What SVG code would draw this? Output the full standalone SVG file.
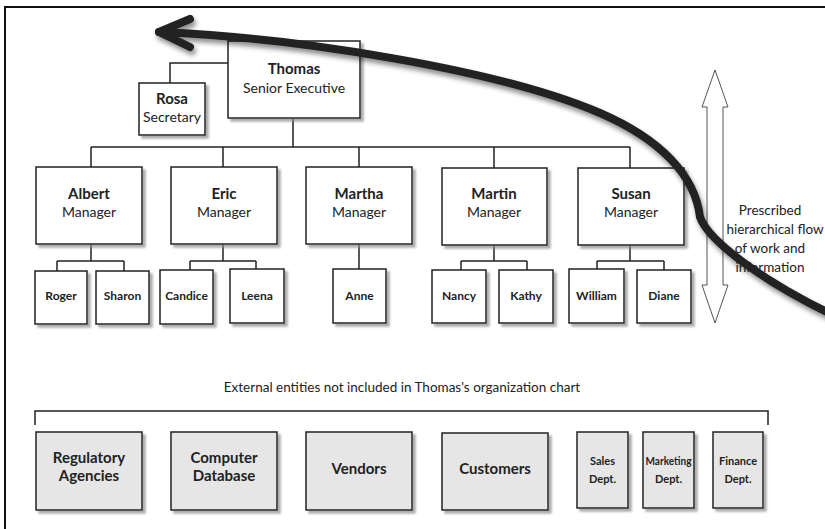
<svg xmlns="http://www.w3.org/2000/svg" width="825" height="529" viewBox="0 0 825 529">
<style>
.box{fill:#fff;stroke:#222;stroke-width:1.5;filter:url(#sh)}
.ext{fill:#e6e6e6;stroke:#222;stroke-width:1.5;filter:url(#sh)}
.ln{fill:none;stroke:#222;stroke-width:1.5}
text{font-family:Lato,"Open Sans","Liberation Sans",sans-serif;fill:#222;text-anchor:middle}
.nm{font-weight:bold;font-size:15px}
.rl{font-size:14px}
.lf{font-weight:bold;font-size:12px}
.eb{font-weight:bold;font-size:15px}
.es{font-weight:bold;font-size:11px}
.nt{font-size:13.5px}
</style>
<defs>
<filter id="sh" x="-10%" y="-10%" width="130%" height="130%">
<feDropShadow dx="3" dy="3" stdDeviation="1" flood-color="#888" flood-opacity="0.7"/>
</filter>
<filter id="sh2" x="-10%" y="-10%" width="130%" height="130%">
<feDropShadow dx="2" dy="4" stdDeviation="2.5" flood-color="#000" flood-opacity="0.45"/>
</filter>
</defs>
<rect width="825" height="529" fill="#fff"/>
<path d="M5,529 V7 H825" fill="none" stroke="#111" stroke-width="2"/>

<g id="connectors">
<path class="ln" d="M228,63 H170 V83"/>
<path class="ln" d="M293,118 V147 M91,147 H630 M91,147 V167 M223,147 V167 M359,147 V167 M494,147 V168 M630,147 V168"/>
<path class="ln" d="M91,244 V261 M57,261 H124 M57,261 V271 M124,261 V271"/>
<path class="ln" d="M223,244 V261 M190,261 H256 M190,261 V270 M256,261 V270"/>
<path class="ln" d="M359,244 V269"/>
<path class="ln" d="M494,245 V261 M461,261 H527 M461,261 V270 M527,261 V270"/>
<path class="ln" d="M630,245 V261 M597,261 H664 M597,261 V270 M664,261 V270"/>
<path class="ln" d="M35,425 V411 H768 V425"/>
</g>

<g id="thomas"><rect class="box" x="228" y="41" width="132" height="77"/><text class="nm" x="294" y="74">Thomas</text><text class="rl" x="294" y="93">Senior Executive</text></g>
<g id="rosa"><rect class="box" x="139" y="83" width="66" height="52"/><text class="nm" x="172" y="104">Rosa</text><text class="rl" x="172" y="122">Secretary</text></g>

<g id="albert"><rect class="box" x="36" y="167" width="106" height="77"/><text class="nm" x="89" y="199">Albert</text><text class="rl" x="89" y="217">Manager</text></g>
<g id="eric"><rect class="box" x="171" y="167" width="106" height="77"/><text class="nm" x="224" y="199">Eric</text><text class="rl" x="224" y="217">Manager</text></g>
<g id="martha"><rect class="box" x="306" y="167" width="106" height="77"/><text class="nm" x="359" y="199">Martha</text><text class="rl" x="359" y="217">Manager</text></g>
<g id="martin"><rect class="box" x="442" y="168" width="105" height="77"/><text class="nm" x="494" y="199">Martin</text><text class="rl" x="494" y="217">Manager</text></g>
<g id="susan"><rect class="box" x="578" y="168" width="106" height="77"/><text class="nm" x="631" y="199">Susan</text><text class="rl" x="631" y="217">Manager</text></g>

<g id="roger"><rect class="box" x="35" y="271" width="52" height="53"/><text class="lf" x="61" y="300">Roger</text></g>
<g id="sharon"><rect class="box" x="96" y="271" width="53" height="53"/><text class="lf" x="122.5" y="300">Sharon</text></g>
<g id="candice"><rect class="box" x="160" y="270" width="53" height="54"/><text class="lf" x="186.5" y="300">Candice</text></g>
<g id="leena"><rect class="box" x="230" y="269" width="54" height="54"/><text class="lf" x="257" y="300">Leena</text></g>
<g id="anne"><rect class="box" x="333" y="269" width="53" height="54"/><text class="lf" x="359.5" y="300">Anne</text></g>
<g id="nancy"><rect class="box" x="432" y="270" width="54" height="53"/><text class="lf" x="459" y="300">Nancy</text></g>
<g id="kathy"><rect class="box" x="499" y="270" width="54" height="53"/><text class="lf" x="526" y="300">Kathy</text></g>
<g id="william"><rect class="box" x="569" y="269" width="55" height="54"/><text class="lf" x="596.5" y="300">William</text></g>
<g id="diane"><rect class="box" x="637" y="270" width="54" height="53"/><text class="lf" x="664" y="300">Diane</text></g>

<g id="flow">
<polygon points="715,70 728,107 723,107 723,285 728,285 715,323 702,285 707,285 707,107 702,107" fill="#fff" stroke="#555" stroke-width="1"/>
<text class="nt" x="770" y="215">Prescribed</text>
<text class="nt" x="775" y="234">hierarchical flow</text>
<text class="nt" x="770" y="253">of work and</text>
<text class="nt" x="770" y="272">information</text>
</g>

<text x="402" y="392" style="font-size:13.5px">External entities not included in Thomas's organization chart</text>

<g id="regulatory"><rect class="ext" x="36" y="432" width="106" height="78"/><text class="eb" x="89" y="463">Regulatory</text><text class="eb" x="89" y="481">Agencies</text></g>
<g id="database"><rect class="ext" x="171" y="432" width="106" height="78"/><text class="eb" x="224" y="463">Computer</text><text class="eb" x="224" y="481">Database</text></g>
<g id="vendors"><rect class="ext" x="306" y="432" width="106" height="78"/><text class="eb" x="359" y="474">Vendors</text></g>
<g id="customers"><rect class="ext" x="442" y="433" width="106" height="77"/><text class="eb" x="495" y="474">Customers</text></g>
<g id="sales"><rect class="ext" x="577" y="432" width="51" height="76"/><text class="es" x="602.5" y="465">Sales</text><text class="es" x="602.5" y="483">Dept.</text></g>
<g id="marketing"><rect class="ext" x="643" y="432" width="51" height="76"/><text class="es" x="668.5" y="465" textLength="46" lengthAdjust="spacingAndGlyphs">Marketing</text><text class="es" x="668.5" y="483">Dept.</text></g>
<g id="finance"><rect class="ext" x="713" y="432" width="50" height="76"/><text class="es" x="738" y="465">Finance</text><text class="es" x="738" y="483">Dept.</text></g>

<g id="bigarrow" filter="url(#sh2)" fill="none" stroke="#222" stroke-width="8" stroke-linecap="round" stroke-linejoin="round">
<path d="M159,32 C300,38 500,70 600,113 C660,139 695,175 700,217 C708,240 760,280 835,316"/>
<path d="M190,19 L159,32 L190,47"/>
</g>
</svg>
